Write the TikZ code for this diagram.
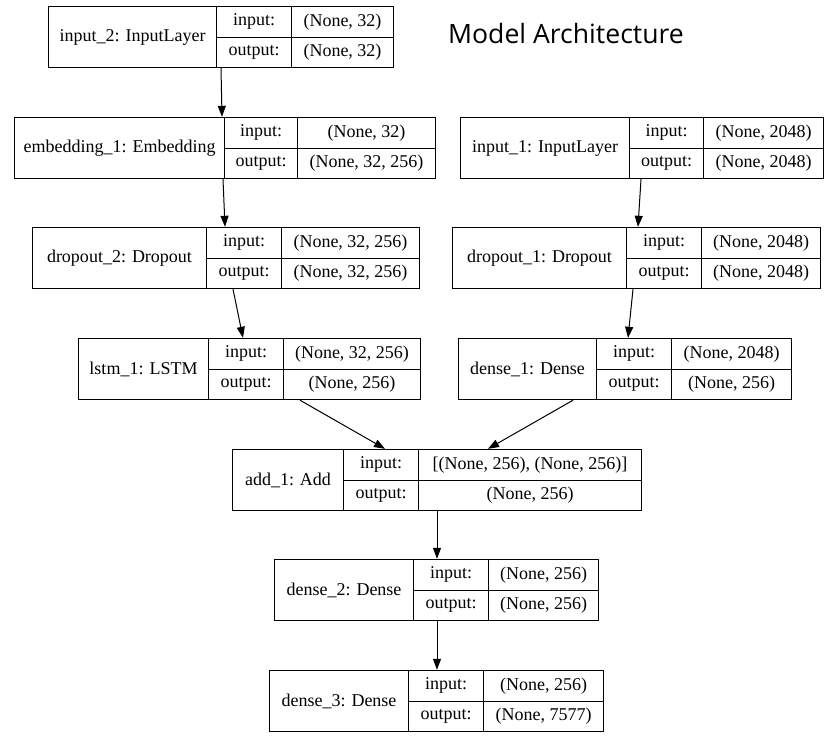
\documentclass[tikz,border=0pt]{standalone}
\usepackage{fontspec}
\setmainfont{Liberation Serif}
\newfontfamily\titlefont{Open Sans}
\usepackage{tikz}
\usetikzlibrary{calc}
\usetikzlibrary{arrows.meta}
\usetikzlibrary{fit}
\tikzset{>={Triangle[length=11pt,width=8pt]}}
\tikzset{cell/.style = {rectangle, draw = black, line width = 1pt, inner sep = 0, font = \rmfamily\fontsize{18}{20}\selectfont}}
\tikzset{flow/.style = {->, line width = 1pt}}
% one keras layer: id, left, split 1, split 2, right, top, name, input, output
\newcommand{\layerbox}[9]{%
\node [cell, anchor = north west, minimum width = {(#3-#2)*1pt}, minimum height = 61pt] (#1-name) at (#2, #6) {#7};
\node [cell, anchor = north west, minimum width = {(#4-#3)*1pt}, minimum height = 30.5pt] (#1-inkey) at (#3, #6) {input:};
\node [cell, anchor = north west, minimum width = {(#5-#4)*1pt}, minimum height = 30.5pt] (#1-inval) at (#4, #6) {#8};
\node [cell, anchor = north west, minimum width = {(#4-#3)*1pt}, minimum height = 30.5pt] (#1-outkey) at (#3, #6+30.5) {output:};
\node [cell, anchor = north west, minimum width = {(#5-#4)*1pt}, minimum height = 30.5pt] (#1-outval) at (#4, #6+30.5) {#9};
\node [fit = (#1-name) (#1-outval), inner sep = 0] (#1) {};
}

\begin{document}
\begin{tikzpicture}[x = 1pt, y = -1pt]
\useasboundingbox (0, 0) rectangle (829, 737);
\node [font = \titlefont\fontsize{26.6}{30}\selectfont, inner sep = 0] (title) at (566, 34) {Model Architecture};
\layerbox{inptwo}{48}{216}{291}{393}{6}{input\_2: InputLayer}{(None, 32)}{(None, 32)}
\layerbox{emb}{14}{224}{297}{435}{117}{embedding\_1: Embedding}{(None, 32)}{(None, 32, 256)}
\layerbox{inpone}{460}{629}{703}{823}{117}{input\_1: InputLayer}{(None, 2048)}{(None, 2048)}
\layerbox{droptwo}{32}{206}{281}{419}{227}{dropout\_2: Dropout}{(None, 32, 256)}{(None, 32, 256)}
\layerbox{dropone}{452}{626}{701}{820}{227}{dropout\_1: Dropout}{(None, 2048)}{(None, 2048)}
\layerbox{lstm}{78}{208}{283}{420}{338}{lstm\_1: LSTM}{(None, 32, 256)}{(None, 256)}
\layerbox{denseone}{458}{596}{671}{791}{338}{dense\_1: Dense}{(None, 2048)}{(None, 256)}
\layerbox{add}{232}{343}{418}{641}{449}{add\_1: Add}{[(None, 256), (None, 256)]}{(None, 256)}
\layerbox{densetwo}{274}{413}{488}{598}{559}{dense\_2: Dense}{(None, 256)}{(None, 256)}
\layerbox{densethree}{269}{408}{483}{603}{670}{dense\_3: Dense}{(None, 256)}{(None, 7577)}
\draw [flow] (inptwo.south -| 221, 0) to (emb.north -| 222, 0);
\draw [flow] (emb.south -| 223, 0) to (droptwo.north -| 225, 0);
\draw [flow] (droptwo.south -| 233, 0) to (lstm.north -| 243, 0);
\draw [flow] (inpone.south -| 641, 0) to (dropone.north -| 638, 0);
\draw [flow] (dropone.south -| 633, 0) to (denseone.north -| 628, 0);
\draw [flow] (lstm.south -| 300, 0) to (add.north -| 385, 0);
\draw [flow] (denseone.south -| 573, 0) to (add.north -| 488, 0);
\draw [flow] (add.south -| 437, 0) to (densetwo.north -| 437, 0);
\draw [flow] (densetwo.south -| 437, 0) to (densethree.north -| 437, 0);
\end{tikzpicture}
\end{document}
